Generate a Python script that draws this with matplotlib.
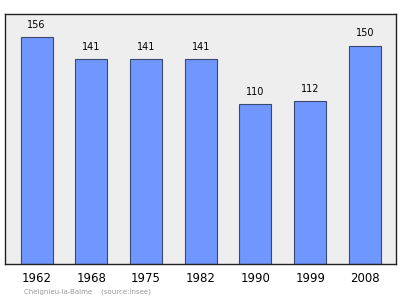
import matplotlib
matplotlib.use("Agg")
import matplotlib.pyplot as plt

years = ["1962", "1968", "1975", "1982", "1990", "1999", "2008"]
population = [156, 141, 141, 141, 110, 112, 150]

fig = plt.figure(figsize=(4.0, 2.99), dpi=100)
# axes box in pixels: left 5, right 396, top 14, bottom 264
ax = fig.add_axes([5 / 400, 1 - 264 / 299, 391 / 400, 250 / 299])
ax.set_facecolor("#eeeeee")

xs = range(len(years))
ax.bar(xs, population, width=0.585, color="#7097ff", edgecolor="#3a4a6e",
       linewidth=0.8, zorder=2)
for x, v in zip(xs, population):
    ax.text(x, v + 5, str(v), ha="center", va="bottom", fontsize=7,
            color="black")

ax.set_xlim(-0.576, 6.567)
ax.set_ylim(0, 171.8)
ax.set_yticks([])
ax.set_xticks(list(xs))
ax.set_xticklabels(years, fontsize=8.5)
ax.tick_params(axis="x", length=0, pad=6)
for s in ax.spines.values():
    s.set_linewidth(1.0)
    s.set_color("#222222")

fig.text(24 / 400, 1 - 292 / 299, "Cheignieu-la-Balme    (source:Insee)",
         fontsize=5, color="#999999", ha="left", va="center")

fig.savefig("out.png", dpi=100)
